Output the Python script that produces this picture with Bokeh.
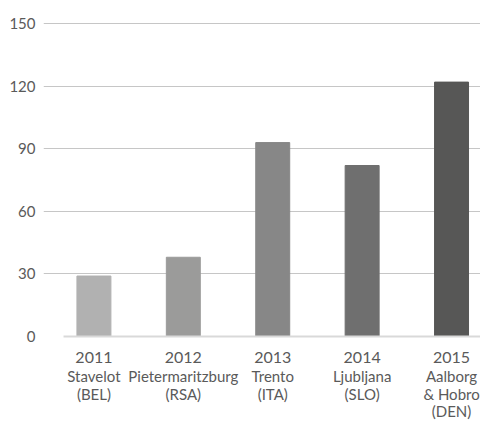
from bokeh.plotting import figure
from bokeh.models import ColumnDataSource, FixedTicker, Range1d
from bokeh.core.properties import value
from bokeh.embed import file_html
from bokeh.resources import INLINE

years = ["2011", "2012", "2013", "2014", "2015"]
hosts = ["Stavelot", "Pietermaritzburg", "Trento", "Ljubljana", "Aalborg\n& Hobro"]
nations = ["(BEL)", "(RSA)", "(ITA)", "(SLO)", "(DEN)"]
counts = [29, 38, 93, 82, 122]
bar_colors = ["#b1b1b1", "#9b9b9a", "#878787", "#6f6f6f", "#575756"]
y_ticks = [0, 30, 60, 90, 120, 150]

idx = list(range(len(years)))
src = ColumnDataSource(dict(x=idx, top=counts, color=bar_colors, year=years,
                            place=[h + "\n" + n for h, n in zip(hosts, nations)]))

FONT = "Lato"
TXT = "#5a5a5a"

p = figure(width=480, height=421, output_backend="svg", toolbar_location=None,
           x_range=Range1d(-0.564, 4.324), y_range=Range1d(-40.77, 154.9),
           min_border_left=43, min_border_right=0, min_border_top=13, min_border_bottom=0)
p.outline_line_color = None
p.xaxis.visible = False
p.xgrid.visible = False

ax = p.yaxis[0]
ax.ticker = FixedTicker(ticks=y_ticks)
ax.axis_line_color = None
ax.major_tick_line_color = None
ax.major_tick_out = 0
ax.major_tick_in = 0
ax.minor_tick_line_color = None
ax.major_label_standoff = 8
ax.major_label_text_font = FONT
ax.major_label_text_font_size = "15px"
ax.major_label_text_color = TXT

p.ygrid.ticker = FixedTicker(ticks=y_ticks[1:])
p.ygrid.grid_line_color = "#c6c6c6"
p.ygrid.grid_line_width = 1

p.vbar(x="x", top="top", bottom=0, width=0.38, color="color", source=src)
p.segment(x0=[-0.34], y0=[0], x1=[4.324], y1=[0], line_color="#d9d9d9", line_width=2)

p.text(x="x", y=0, text="year", source=src, y_offset=21, text_align="center",
       text_baseline="alphabetic", text_font=value(FONT), text_font_size="16px", text_color=TXT)
p.text(x="x", y=0, text="place", source=src, y_offset=31, text_align="center",
       text_baseline="top", text_line_height=0.97, text_font=value(FONT),
       text_font_size="15px", text_color=TXT)

open("out.html", "w").write(file_html(p, INLINE))
